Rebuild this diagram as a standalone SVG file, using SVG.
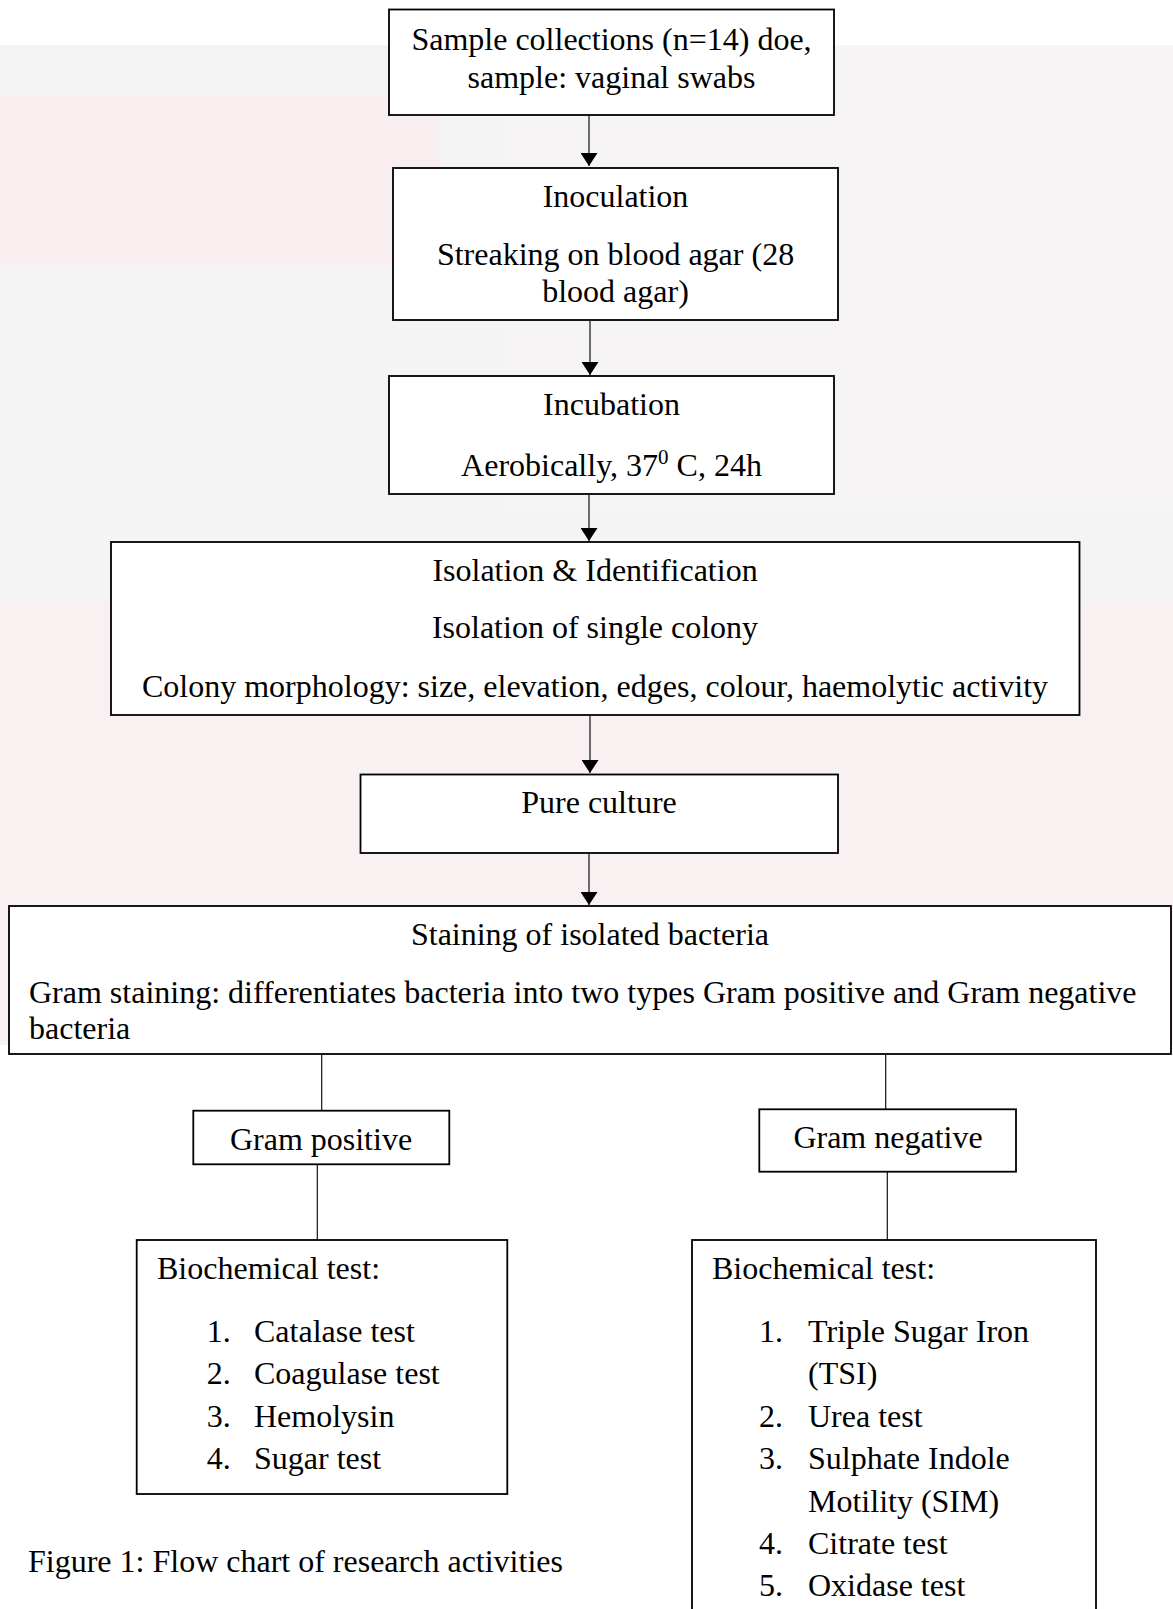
<svg xmlns="http://www.w3.org/2000/svg" width="1173" height="1609" viewBox="0 0 1173 1609">
  <style>
    .box { fill: #ffffff; stroke: #000000; stroke-width: 1.8; }
    .t { font-family: "Liberation Serif", "Times New Roman", serif; font-size: 32px; fill: #000000; }
    .c { text-anchor: middle; }
    .conn { stroke: #111111; stroke-width: 1.2; fill: none; }
    .arrow { marker-end: url(#ah); }
  </style>
  <defs>
    <marker id="ah" markerUnits="userSpaceOnUse" markerWidth="14" markerHeight="17" viewBox="0 0 14 17" refX="13" refY="8.5" orient="auto">
      <path d="M0,0 L13,8.5 L0,17 z" fill="#000000"/>
    </marker>
  </defs>

  <!-- background (faint watermark tint) -->
  <rect x="0" y="0" width="1173" height="1609" fill="#ffffff"/>
  <g id="watermark-tint" opacity="0.9">
    <rect x="0" y="45" width="1173" height="1000" fill="#f5f3f4"/>
    <rect x="0" y="95" width="440" height="170" fill="#f8ecee"/>
    <rect x="0" y="600" width="1173" height="440" fill="#f9eff1"/>
  </g>

  <g id="connectors">
    <line class="conn arrow" x1="589" y1="115" x2="589" y2="166"/>
    <line class="conn arrow" x1="590" y1="321" x2="590" y2="375"/>
    <line class="conn arrow" x1="589" y1="495" x2="589" y2="541"/>
    <line class="conn arrow" x1="590" y1="716" x2="590" y2="773"/>
    <line class="conn arrow" x1="589" y1="854" x2="589" y2="905"/>
    <line class="conn" x1="321.7" y1="1054" x2="321.7" y2="1110.7"/>
    <line class="conn" x1="317.3" y1="1164.3" x2="317.3" y2="1240"/>
    <line class="conn" x1="885.7" y1="1054" x2="885.7" y2="1109.3"/>
    <line class="conn" x1="887.3" y1="1171.7" x2="887.3" y2="1240"/>
  </g>

  <g id="node-sample">
    <rect class="box" x="389" y="9.5" width="445" height="105.5"/>
    <text class="t c" x="611.5" y="50">Sample collections (n=14) doe,</text>
    <text class="t c" x="611.5" y="88">sample: vaginal swabs</text>
  </g>

  <g id="node-inoculation">
    <rect class="box" x="393" y="168" width="445" height="152"/>
    <text class="t c" x="615.5" y="207">Inoculation</text>
    <text class="t c" x="615.5" y="265">Streaking on blood agar (28</text>
    <text class="t c" x="615.5" y="302">blood agar)</text>
  </g>

  <g id="node-incubation">
    <rect class="box" x="389" y="376" width="445" height="118"/>
    <text class="t c" x="611.5" y="415">Incubation</text>
    <text class="t c" x="611.5" y="476">Aerobically, 37<tspan font-size="21" dy="-12">0</tspan><tspan dy="12"> C, 24h</tspan></text>
  </g>

  <g id="node-isolation">
    <rect class="box" x="111" y="542" width="968.5" height="173"/>
    <text class="t c" x="595" y="581">Isolation &amp; Identification</text>
    <text class="t c" x="595" y="638">Isolation of single colony</text>
    <text class="t c" x="595" y="697">Colony morphology: size, elevation, edges, colour, haemolytic activity</text>
  </g>

  <g id="node-pure">
    <rect class="box" x="360.5" y="774.5" width="477.5" height="78.5"/>
    <text class="t c" x="599" y="813">Pure culture</text>
  </g>

  <g id="node-staining">
    <rect class="box" x="9" y="906" width="1162" height="148"/>
    <text class="t c" x="590" y="945">Staining of isolated bacteria</text>
    <text class="t" x="29" y="1003">Gram staining: differentiates bacteria into two types Gram positive and Gram negative</text>
    <text class="t" x="29" y="1039">bacteria</text>
  </g>

  <g id="node-gram-positive">
    <rect class="box" x="193.3" y="1110.7" width="256" height="53.6"/>
    <text class="t c" x="321" y="1150">Gram positive</text>
  </g>

  <g id="node-gram-negative">
    <rect class="box" x="759.3" y="1109.3" width="256.7" height="62.4"/>
    <text class="t c" x="888" y="1148">Gram negative</text>
  </g>

  <g id="node-biochem-positive">
    <rect class="box" x="136.7" y="1240" width="370.6" height="254"/>
    <text class="t" x="157" y="1279">Biochemical test:</text>
    <text class="t" x="206.7" y="1341.5">1.</text><text class="t" x="254" y="1341.5">Catalase test</text>
    <text class="t" x="206.7" y="1384">2.</text><text class="t" x="254" y="1384">Coagulase test</text>
    <text class="t" x="206.7" y="1426.5">3.</text><text class="t" x="254" y="1426.5">Hemolysin</text>
    <text class="t" x="206.7" y="1469">4.</text><text class="t" x="254" y="1469">Sugar test</text>
  </g>

  <g id="node-biochem-negative">
    <rect class="box" x="692" y="1240" width="404" height="380"/>
    <text class="t" x="712" y="1279">Biochemical test:</text>
    <text class="t" x="759" y="1341.5">1.</text><text class="t" x="808" y="1341.5">Triple Sugar Iron</text>
    <text class="t" x="808" y="1384">(TSI)</text>
    <text class="t" x="759" y="1426.5">2.</text><text class="t" x="808" y="1426.5">Urea test</text>
    <text class="t" x="759" y="1469">3.</text><text class="t" x="808" y="1469">Sulphate Indole</text>
    <text class="t" x="808" y="1511.5">Motility (SIM)</text>
    <text class="t" x="759" y="1554">4.</text><text class="t" x="808" y="1554">Citrate test</text>
    <text class="t" x="759" y="1596">5.</text><text class="t" x="808" y="1596">Oxidase test</text>
  </g>

  <g id="caption">
    <text class="t" x="28" y="1571.5">Figure 1: Flow chart of research activities</text>
  </g>
</svg>
